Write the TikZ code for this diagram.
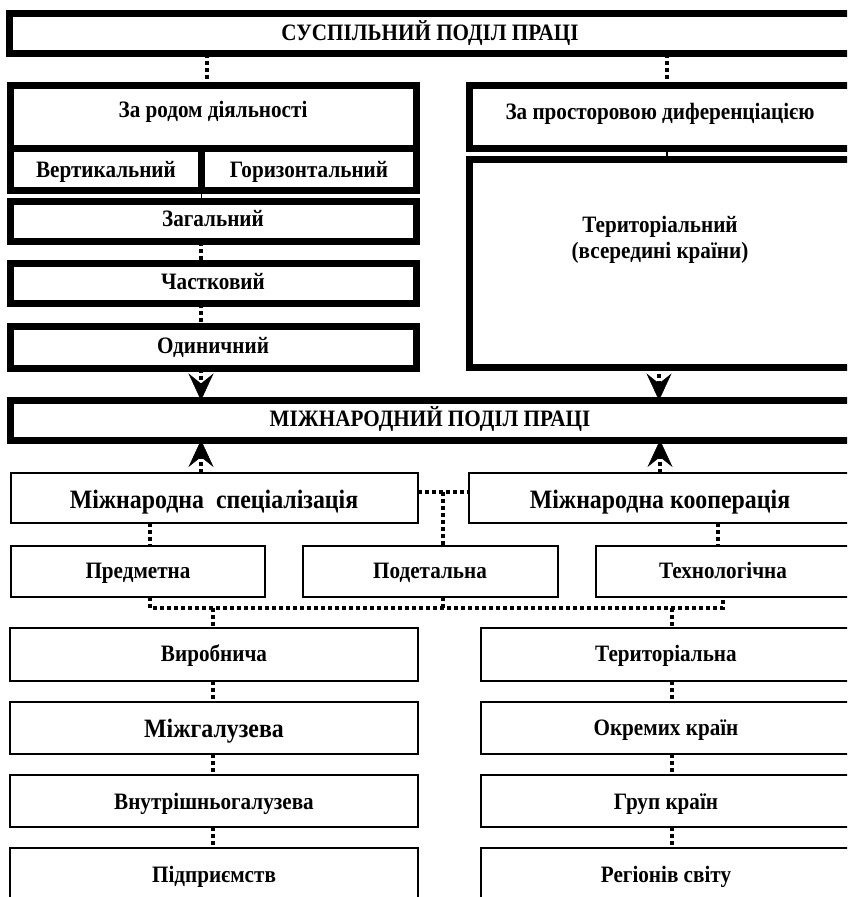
\documentclass[tikz,border=0pt]{standalone}
\usepackage{fontspec}
\setmainfont{Liberation Serif}
\newfontfamily\lblfont[FakeStretch=0.9]{Liberation Serif}
\usetikzlibrary{arrows.meta}
\tikzset{
  thickbox/.style={draw, line width=7pt, inner sep=0pt, outer sep=0pt},
  thinbox/.style={draw, line width=1.8pt, inner sep=0pt, outer sep=0pt},
  lbl/.style={font=\lblfont\bfseries\fontsize{23.5}{26}\selectfont, inner sep=0pt, text height=15.5pt, text depth=0pt},
  biglbl/.style={font=\lblfont\bfseries\fontsize{26.5}{29}\selectfont, inner sep=0pt, text height=17.5pt, text depth=0pt},
  dotline/.style={line width=4pt, dash pattern=on 4pt off 3pt},
  thinline/.style={line width=1.8pt},
  bigarrow/.style={-{Stealth[length=27pt, width=25pt, inset=10pt, line width=0.5pt]}}
}
\begin{document}
\begin{tikzpicture}[x=1pt,y=-1pt]
\useasboundingbox (0,0) rectangle (847,897);
\clip (0,0) rectangle (847,897);
\fill[white] (0,0) rectangle (847,897);
% ---- top part
\node[thickbox, minimum width=841.5pt, minimum height=40pt] (top) at (430.25,33.5) {};
\node[lbl] (topt) at (430,33) {СУСПІЛЬНИЙ ПОДІЛ ПРАЦІ};
\node[thickbox, minimum width=406pt, minimum height=63.5pt] (rod) at (213.5,116.75) {};
\node[lbl] (rodt) at (213,110) {За родом діяльності};
\node[thickbox, minimum width=191pt, minimum height=41.5pt] (vert) at (106,169.25) {};
\node[lbl] (vertt) at (106,170) {Вертикальний};
\node[thickbox, minimum width=215pt, minimum height=41.5pt] (hor) at (309,169.25) {};
\node[lbl] (hort) at (309,170) {Горизонтальний};
\node[thickbox, minimum width=406pt, minimum height=40pt] (zag) at (213.5,221.5) {};
\node[lbl] (zagt) at (213,219) {Загальний};
\node[thickbox, minimum width=406pt, minimum height=40pt] (chast) at (213.5,283.5) {};
\node[lbl] (chastt) at (213,282) {Частковий};
\node[thickbox, minimum width=406pt, minimum height=42pt] (odyn) at (213.5,347.5) {};
\node[lbl] (odynt) at (213,345.5) {Одиничний};
\node[thickbox, minimum width=381.5pt, minimum height=63.5pt] (prost) at (660.25,116.75) {};
\node[lbl] (prostt) at (660,112) {За просторовою диференціацією};
\node[thickbox, minimum width=381.5pt, minimum height=207.5pt] (terr) at (660.25,263.25) {};
\node[lbl, align=center, text height=, text depth=] (terrt) at (660,240) {Територіальний\\(всередині країни)};
\node[thickbox, minimum width=840.5pt, minimum height=39.5pt] (mizh) at (430.75,420.25) {};
\node[lbl] (mizht) at (430,418.5) {МІЖНАРОДНИЙ ПОДІЛ ПРАЦІ};
% ---- middle part
\node[thinbox, minimum width=407.3pt, minimum height=50pt] (spec) at (214.35,498) {};
\node[biglbl] (spect) at (214,500) {Міжнародна\ \ спеціалізація};
\node[thinbox, minimum width=382pt, minimum height=50pt] (koop) at (660,498) {};
\node[biglbl] (koopt) at (660,500) {Міжнародна кооперація};
\node[thinbox, minimum width=254.3pt, minimum height=51pt] (pred) at (137.85,571.5) {};
\node[lbl] (predt) at (138,571) {Предметна};
\node[thinbox, minimum width=254.7pt, minimum height=51pt] (podet) at (430.35,571.5) {};
\node[lbl] (podett) at (430,571) {Подетальна};
\node[thinbox, minimum width=255pt, minimum height=51pt] (tech) at (723.5,571.5) {};
\node[lbl] (techt) at (723,571) {Технологічна};
% ---- bottom columns
\node[thinbox, minimum width=408pt, minimum height=53pt] (vyr) at (214,654.5) {};
\node[lbl] (vyrt) at (214,653.5) {Виробнича};
\node[thinbox, minimum width=408pt, minimum height=52pt] (mzg) at (214,728) {};
\node[biglbl] (mzgt) at (214,728.5) {Міжгалузева};
\node[thinbox, minimum width=408pt, minimum height=52pt] (vnut) at (214,801) {};
\node[lbl] (vnutt) at (214,801.5) {Внутрішньогалузева};
\node[thinbox, minimum width=408pt, minimum height=52pt] (pidp) at (214,874) {};
\node[lbl] (pidpt) at (214,875) {Підприємств};
\node[thinbox, minimum width=370pt, minimum height=53pt] (ter2) at (666,654.5) {};
\node[lbl] (ter2t) at (666,653.5) {Територіальна};
\node[thinbox, minimum width=370pt, minimum height=52pt] (okr) at (666,728) {};
\node[lbl] (okrt) at (666,727.5) {Окремих країн};
\node[thinbox, minimum width=370pt, minimum height=52pt] (grup) at (666,801) {};
\node[lbl] (grupt) at (666,801.5) {Груп країн};
\node[thinbox, minimum width=370pt, minimum height=52pt] (reg) at (666,874) {};
\node[lbl] (regt) at (666,875) {Регіонів світу};
% ---- coordinates
\coordinate (j1) at (443,492);
\coordinate (b1) at (150,608);
\coordinate (b2) at (723,608);
\coordinate (bl) at (213,608);
\coordinate (br) at (672,608);
% ---- connectors
\draw[dotline] (top.south -| 207,0) -- (rod.north -| 207,0);
\draw[dotline] (top.south -| 667,0) -- (prost.north -| 667,0);
\draw[thinline] (hor.south west) -- (zag.north -| hor.south west);
\draw[thinline] (prost.south -| 667,0) -- (terr.north -| 667,0);
\draw[dotline] (zag.south -| 201,0) -- (chast.north -| 201,0);
\draw[dotline] (chast.south -| 201,0) -- (odyn.north -| 201,0);
\draw[dotline, bigarrow] (odyn.south -| 201,0) -- (mizh.north -| 201,0);
\draw[dotline, bigarrow] (terr.south -| 659,0) -- (mizh.north -| 659,0);
\draw[dotline, bigarrow] (spec.north -| 201,0) -- (mizh.south -| 201,0);
\draw[dotline, bigarrow] (koop.north -| 660,0) -- (mizh.south -| 660,0);
\draw[dotline] (spec.east |- j1) -- (koop.west |- j1);
\draw[dotline] (j1) -- (podet.north -| j1);
\draw[dotline] (spec.south -| b1) -- (pred.north -| b1);
\draw[dotline] (koop.south -| 718,0) -- (tech.north -| 718,0);
\draw[dotline] (pred.south -| b1) -- (b1) -- (b2) -- (tech.south -| b2);
\draw[dotline] (podet.south -| j1) -- (j1 |- b1);
\draw[dotline] (bl) -- (vyr.north -| bl);
\draw[dotline] (br) -- (ter2.north -| br);
\draw[dotline] (vyr.south -| bl) -- (mzg.north -| bl);
\draw[dotline] (mzg.south -| bl) -- (vnut.north -| bl);
\draw[dotline] (vnut.south -| bl) -- (pidp.north -| bl);
\draw[dotline] (ter2.south -| br) -- (okr.north -| br);
\draw[dotline] (okr.south -| br) -- (grup.north -| br);
\draw[dotline] (grup.south -| br) -- (reg.north -| br);
\end{tikzpicture}
\end{document}
